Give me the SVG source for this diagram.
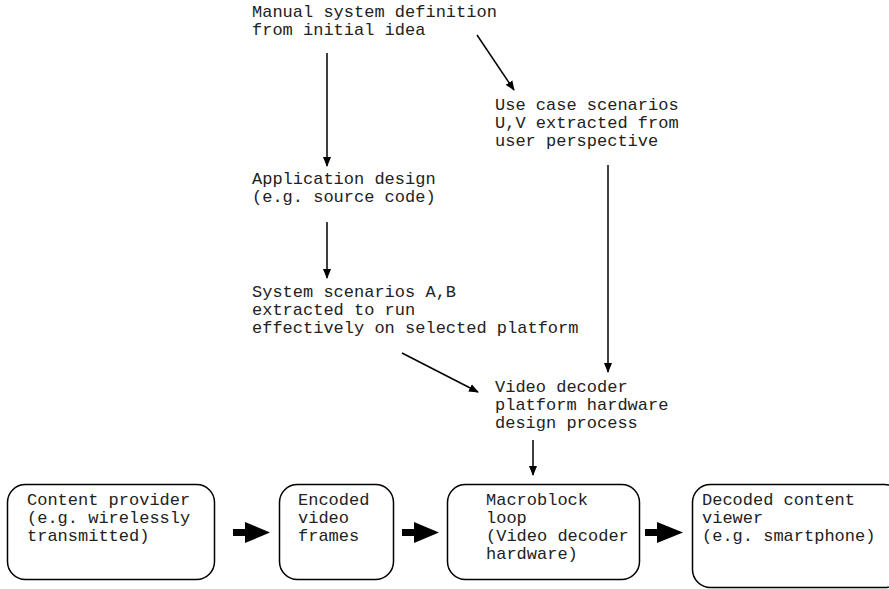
<svg xmlns="http://www.w3.org/2000/svg" width="889" height="589" viewBox="0 0 889 589">
<defs>
<style>
text{font-family:"Liberation Mono","Courier New",monospace;font-size:17px;fill:#222}
.box{fill:#fff;stroke:#000;stroke-width:1.5}
.ln{stroke:#000;stroke-width:1.5;fill:none}
.blk{fill:#000}
</style>
<marker id="ah" markerWidth="10" markerHeight="10" refX="9" refY="5" orient="auto" markerUnits="userSpaceOnUse"><path d="M0,1 L10,5 L0,9 Z" fill="#000"/></marker>
</defs>
<rect width="889" height="589" fill="#fff"/>
<g id="n-manual"><text x="252" y="17">Manual system definition</text><text x="252" y="35">from initial idea</text></g>
<g id="n-usecase"><text x="495" y="110">Use case scenarios</text><text x="495" y="128">U,V extracted from</text><text x="495" y="146">user perspective</text></g>
<g id="n-app"><text x="252" y="184">Application design</text><text x="252" y="202">(e.g. source code)</text></g>
<g id="n-sys"><text x="252" y="297">System scenarios A,B</text><text x="252" y="315">extracted to run</text><text x="252" y="333">effectively on selected platform</text></g>
<g id="n-vd"><text x="495" y="392">Video decoder</text><text x="495" y="410">platform hardware</text><text x="495" y="428">design process</text></g>
<g id="n-content"><rect class="box" x="7.5" y="484.5" width="207" height="95" rx="18"/><text x="27" y="505">Content provider</text><text x="27" y="523">(e.g. wirelessly</text><text x="27" y="541">transmitted)</text></g>
<g id="n-encoded"><rect class="box" x="279.5" y="484.5" width="114" height="95" rx="18"/><text x="298" y="505">Encoded</text><text x="298" y="523">video</text><text x="298" y="541">frames</text></g>
<g id="n-macro"><rect class="box" x="447.5" y="484.5" width="192" height="95" rx="18"/><text x="486" y="505">Macroblock</text><text x="486" y="523">loop</text><text x="486" y="541">(Video decoder</text><text x="486" y="559">hardware)</text></g>
<g id="n-viewer"><rect class="box" x="692.5" y="484.5" width="210" height="103" rx="18"/><text x="702" y="505">Decoded content</text><text x="702" y="523">viewer</text><text x="702" y="541">(e.g. smartphone)</text></g>
<g id="connectors">
<line class="ln" x1="327" y1="53" x2="327" y2="166" marker-end="url(#ah)"/>
<line class="ln" x1="477" y1="35" x2="514" y2="90" marker-end="url(#ah)"/>
<line class="ln" x1="327" y1="222" x2="327" y2="278" marker-end="url(#ah)"/>
<line class="ln" x1="402" y1="353" x2="478" y2="392" marker-end="url(#ah)"/>
<line class="ln" x1="608" y1="165" x2="608" y2="372" marker-end="url(#ah)"/>
<line class="ln" x1="533" y1="440" x2="533" y2="475" marker-end="url(#ah)"/>
<path class="blk" d="M233,529 H245 V522 L270,532.5 L245,543 V536 H233 Z"/>
<path class="blk" d="M402,529 H414 V522 L439,532.5 L414,543 V536 H402 Z"/>
<path class="blk" d="M645,529 H657 V522 L683,532.5 L657,543 V536 H645 Z"/>
</g>
</svg>
